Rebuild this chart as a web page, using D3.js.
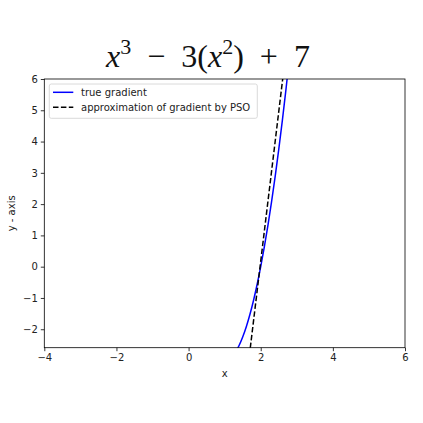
<!DOCTYPE html>
<html><head><meta charset="utf-8">
<script src="https://cdn.jsdelivr.net/npm/d3@7"></script>
<style>body{margin:0;background:#fff}svg{display:block}</style>
</head><body>
<script>
const xDomain = [-4, 6];
const yDomain = [-2.59, 6];
const xTicks = [-4, -2, 0, 2, 4, 6];
const yTicks = [-2, -1, 0, 1, 2, 3, 4, 5, 6];
const trueX = [1.3, 1.4, 1.5, 1.6, 1.7, 1.8, 1.9, 2.0, 2.1, 2.2, 2.3, 2.4, 2.5, 2.6, 2.7, 2.8];
const trueY = [-2.73, -2.52, -2.25, -1.92, -1.53, -1.08, -0.57, 0, 0.63, 1.32, 2.07, 2.88, 3.75, 4.68, 5.67, 6.72];
const psoX = [1.5, 3.0];
const psoY = [-4.61, 9.74];
const legendLabels = ["true gradient", "approximation of gradient by PSO"];
const xLabel = "x", yLabel = "y - axis";

const W = 423, H = 423;
const m = {l: 44.3, r: 405, t: 79, b: 347.7};
const svg = d3.select("body").append("svg").attr("width", W).attr("height", H);
const x = d3.scaleLinear().domain(xDomain).range([m.l, m.r]);
const y = d3.scaleLinear().domain(yDomain).range([m.b, m.t]);
const font = "DejaVu Sans, sans-serif";

svg.append("clipPath").attr("id", "c").append("rect")
  .attr("x", m.l).attr("y", m.t).attr("width", m.r - m.l).attr("height", m.b - m.t);

const line = d3.line().x(d => x(d[0])).y(d => y(d[1])).curve(d3.curveMonotoneX);
const g = svg.append("g").attr("clip-path", "url(#c)");
g.append("path").datum(trueX.map((v, i) => [v, trueY[i]])).attr("d", line)
  .attr("fill", "none").attr("stroke", "#0000ff").attr("stroke-width", 1.5);
g.append("path").datum(psoX.map((v, i) => [v, psoY[i]])).attr("d", d3.line().x(d => x(d[0])).y(d => y(d[1])))
  .attr("fill", "none").attr("stroke", "#000").attr("stroke-width", 1.5).attr("stroke-dasharray", "5.5,2.4");

// frame
svg.append("rect").attr("x", m.l).attr("y", m.t).attr("width", m.r - m.l).attr("height", m.b - m.t)
  .attr("fill", "none").attr("stroke", "#000").attr("stroke-width", 0.8);

const xa = svg.append("g").attr("transform", `translate(0,${m.b})`)
  .call(d3.axisBottom(x).tickValues(xTicks).tickSize(3.5).tickPadding(3).tickFormat(d => d < 0 ? "\u2212" + Math.abs(d) : d));
const ya = svg.append("g").attr("transform", `translate(${m.l},0)`)
  .call(d3.axisLeft(y).tickValues(yTicks).tickSize(3.5).tickPadding(3).tickFormat(d => d < 0 ? "\u2212" + Math.abs(d) : d));
[xa, ya].forEach(a => {
  a.select(".domain").remove();
  a.selectAll("line").attr("stroke", "#000").attr("stroke-width", 0.8);
  a.selectAll("text").attr("font-family", font).attr("font-size", 10).attr("fill", "#222");
});

svg.append("text").attr("x", (m.l + m.r) / 2).attr("y", 377).attr("text-anchor", "middle")
  .attr("font-family", font).attr("font-size", 10).attr("fill", "#222").text(xLabel);
svg.append("text").attr("transform", `translate(15,${(m.t + m.b) / 2}) rotate(-90)`).attr("text-anchor", "middle")
  .attr("font-family", font).attr("font-size", 10).attr("fill", "#222").text(yLabel);

// title (math style)
const t = svg.append("text").attr("x", 208).attr("y", 67).attr("text-anchor", "middle")
  .attr("font-family", "Liberation Serif, serif").attr("font-size", 32).attr("fill", "#111");
t.append("tspan").attr("font-style", "italic").text("x");
t.append("tspan").attr("font-size", 22).attr("dy", -13).text("3");
t.append("tspan").attr("dy", 13).text("\u2002\u2212\u20023(");
t.append("tspan").attr("font-style", "italic").text("x");
t.append("tspan").attr("font-size", 22).attr("dy", -13).text("2");
t.append("tspan").attr("dy", 13).text(")\u2002+\u20027");

// legend
const lg = svg.append("g");
lg.append("rect").attr("x", 49.3).attr("y", 84).attr("width", 208).attr("height", 34.3).attr("rx", 2)
  .attr("fill", "#fff").attr("fill-opacity", 0.8).attr("stroke", "#d0d0d0").attr("stroke-width", 0.8);
const styles = [{c: "#0000ff", d: null}, {c: "#000", d: "5.5,2.4"}];
legendLabels.forEach((lab, i) => {
  const yy = 92.3 + i * 15;
  lg.append("line").attr("x1", 53).attr("x2", 73.3).attr("y1", yy).attr("y2", yy)
    .attr("stroke", styles[i].c).attr("stroke-width", 1.5).attr("stroke-dasharray", styles[i].d);
  lg.append("text").attr("x", 81).attr("y", yy + 3.6).attr("font-family", font).attr("font-size", 10).attr("fill", "#222").text(lab);
});
</script>
</body></html>
